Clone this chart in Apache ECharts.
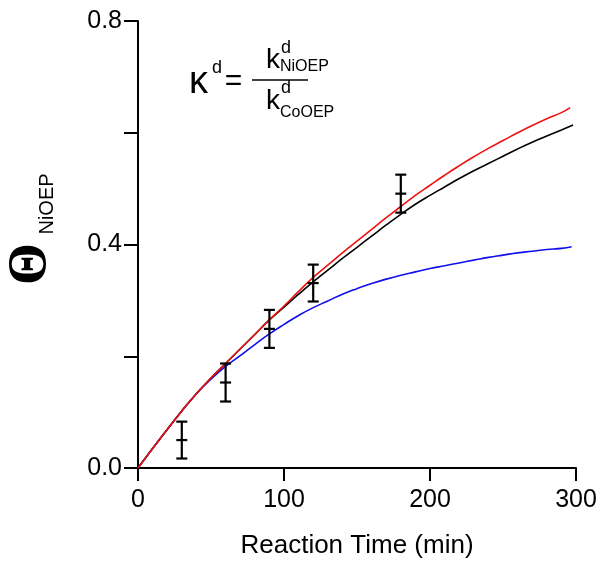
<!DOCTYPE html>
<html>
<head>
<meta charset="utf-8">
<script src="https://cdn.jsdelivr.net/npm/echarts@6/dist/echarts.min.js"></script>
<style>html,body{margin:0;padding:0;background:#fff;}#c{width:600px;height:564px;}</style>
</head>
<body>
<div id="c"></div>
<script>
// ---- data ----
var timesRed   = [0,10,20,30,40,50,60,70,80,90,100,110,120,130,140,150,160,170,180,190,200,210,220,230,240,250,260,270,280,290,296];
var redValues  = [0,0.035,0.069,0.102,0.133,0.161,0.187,0.213,0.239,0.265,0.290,0.316,0.341,0.363,0.385,0.406,0.427,0.448,0.468,0.488,0.506,0.524,0.541,0.557,0.572,0.586,0.600,0.613,0.625,0.636,0.645];
var timesBlack = [0,10,20,30,40,50,60,70,80,90,100,110,120,130,140,150,160,170,180,190,200,210,220,230,240,250,260,270,280,290,298];
var blackValues= [0,0.035,0.069,0.102,0.133,0.161,0.187,0.213,0.239,0.265,0.288,0.311,0.333,0.354,0.375,0.395,0.415,0.435,0.454,0.472,0.488,0.503,0.518,0.532,0.545,0.558,0.571,0.583,0.594,0.605,0.614];
var timesBlue  = [0,10,20,30,40,50,60,70,80,90,100,110,120,130,140,150,160,170,180,190,200,210,220,230,240,250,260,270,280,290,297];
var blueValues = [0,0.035,0.069,0.102,0.133,0.159,0.182,0.201,0.221,0.240,0.257,0.273,0.287,0.299,0.311,0.321,0.330,0.338,0.345,0.351,0.357,0.362,0.367,0.372,0.377,0.381,0.385,0.388,0.391,0.393,0.396];
var expTimes   = [30,60,90,120,180];
var expValues  = [0.050,0.153,0.249,0.331,0.491];
var expErrors  = [0.033,0.034,0.034,0.033,0.034];
var xTicks = [0,100,200,300];
var yTickLabels = {'0.0':'0.0','0.2':'','0.4':'0.4','0.6':'','0.8':'0.8'};
var xAxisTitle = 'Reaction Time (min)';

function pairs(xs, ys){ return xs.map(function(x,i){ return [x, ys[i]]; }); }
var FONT = '"Liberation Sans", Arial, sans-serif';

var chart = echarts.init(document.getElementById('c'), null, {renderer:'canvas'});
var option = {
  animation:false,
  backgroundColor:'#fff',
  grid:{left:138,right:24,top:21,bottom:92,containLabel:false},
  xAxis:{
    type:'value', min:xTicks[0], max:xTicks[xTicks.length-1], interval:100,
    name:xAxisTitle, nameLocation:'middle', nameGap:65,
    nameTextStyle:{fontFamily:FONT,fontSize:26,color:'#000'},
    axisLine:{show:true,lineStyle:{color:'#000',width:2}},
    axisTick:{show:true,inside:false,length:13,lineStyle:{color:'#000',width:2}},
    axisLabel:{fontFamily:FONT,fontSize:25,color:'#000',margin:20},
    splitLine:{show:false}
  },
  yAxis:{
    type:'value', min:0, max:0.8, interval:0.2,
    axisLine:{show:true,lineStyle:{color:'#000',width:2}},
    axisTick:{show:true,inside:false,length:14,lineStyle:{color:'#000',width:2}},
    axisLabel:{fontFamily:FONT,fontSize:25,color:'#000',margin:16,
      formatter:function(v){ var k=v.toFixed(1); return yTickLabels[k]!==undefined?yTickLabels[k]:''; }},
    splitLine:{show:false}
  },
  graphic:[
    {type:'text', x:31, y:264, rotation:Math.PI/2,
      style:{text:'Θ', font:'bold 54px "Liberation Serif", "Times New Roman", serif', fill:'#000', textAlign:'center', textVerticalAlign:'middle'}},
    {type:'text', x:47, y:204, rotation:Math.PI/2,
      style:{text:'NiOEP', font:'20px '+FONT, fill:'#000', textAlign:'center', textVerticalAlign:'middle'}},
    {type:'text', x:189, y:83, style:{text:'κ', font:'38px '+FONT, fill:'#000', textAlign:'left', textVerticalAlign:'middle'}},
    {type:'text', x:212, y:68, style:{text:'d', font:'18px '+FONT, fill:'#000', textAlign:'left', textVerticalAlign:'middle'}},
    {type:'text', x:233.5, y:82, style:{text:'=', font:'30px '+FONT, fill:'#000', textAlign:'center', textVerticalAlign:'middle'}},
    {type:'line', shape:{x1:252,y1:80,x2:308,y2:80}, style:{stroke:'#000',lineWidth:1.5}},
    {type:'text', x:266, y:60, style:{text:'k', font:'28px '+FONT, fill:'#000', textAlign:'left', textVerticalAlign:'middle'}},
    {type:'text', x:281, y:48.5, style:{text:'d', font:'18px '+FONT, fill:'#000', textAlign:'left', textVerticalAlign:'middle'}},
    {type:'text', x:280, y:66.5, style:{text:'NiOEP', font:'16px '+FONT, fill:'#000', textAlign:'left', textVerticalAlign:'middle'}},
    {type:'text', x:266, y:101, style:{text:'k', font:'28px '+FONT, fill:'#000', textAlign:'left', textVerticalAlign:'middle'}},
    {type:'text', x:281, y:88.5, style:{text:'d', font:'18px '+FONT, fill:'#000', textAlign:'left', textVerticalAlign:'middle'}},
    {type:'text', x:280, y:113, style:{text:'CoOEP', font:'16px '+FONT, fill:'#000', textAlign:'left', textVerticalAlign:'middle'}}
  ],
  series:[
    {type:'line', data:pairs(timesBlue,blueValues), smooth:true, showSymbol:false, lineStyle:{color:'#1010ee',width:1.6}, z:2},
    {type:'line', data:pairs(timesBlack,blackValues), smooth:true, showSymbol:false, lineStyle:{color:'#000',width:1.6}, z:3},
    {type:'line', data:pairs(timesRed,redValues), smooth:true, showSymbol:false, lineStyle:{color:'#ee1111',width:1.6}, z:4},
    {type:'custom', z:5,
      data: expTimes.map(function(t,i){ return [t, expValues[i], expErrors[i]]; }),
      renderItem:function(params, api){
        var x=api.value(0), y=api.value(1), e=api.value(2);
        var top=api.coord([x,y+e]), mid=api.coord([x,y]), bot=api.coord([x,y-e]);
        var hw=5.5, st={stroke:'#000',lineWidth:2.2};
        return {type:'group', children:[
          {type:'line', shape:{x1:top[0],y1:top[1],x2:bot[0],y2:bot[1]}, style:st},
          {type:'line', shape:{x1:top[0]-hw,y1:top[1],x2:top[0]+hw,y2:top[1]}, style:st},
          {type:'line', shape:{x1:mid[0]-hw,y1:mid[1],x2:mid[0]+hw,y2:mid[1]}, style:st},
          {type:'line', shape:{x1:bot[0]-hw,y1:bot[1],x2:bot[0]+hw,y2:bot[1]}, style:st}
        ]};
      }
    }
  ]
};
chart.setOption(option);
</script>
</body>
</html>
